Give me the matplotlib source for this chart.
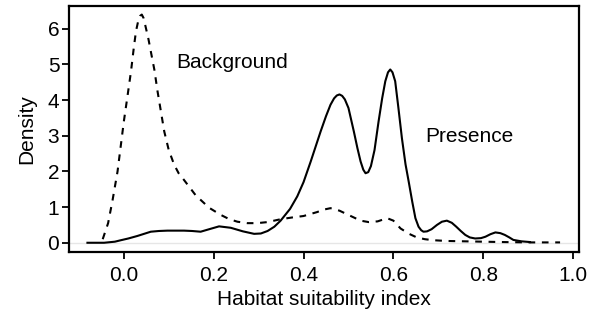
import matplotlib
matplotlib.use("Agg")
import matplotlib.pyplot as plt

plt.rcParams['font.family'] = ['Liberation Sans', 'DejaVu Sans']

# Presence density (solid line)
presence_x = [-0.081, -0.044, -0.02, -0.007, 0.01, 0.03, 0.045, 0.06, 0.078, 0.097,
              0.115, 0.134, 0.152, 0.171, 0.19, 0.212, 0.238, 0.265, 0.29, 0.305,
              0.32, 0.335, 0.349, 0.37, 0.386, 0.40, 0.416, 0.438, 0.45, 0.46,
              0.468, 0.474, 0.48, 0.486, 0.492, 0.50, 0.512, 0.52, 0.527, 0.533,
              0.538, 0.544, 0.55, 0.558, 0.567, 0.575, 0.582, 0.588, 0.593, 0.598,
              0.604, 0.611, 0.619, 0.627, 0.634, 0.642, 0.649, 0.656, 0.662, 0.667,
              0.675, 0.685, 0.697, 0.708, 0.719, 0.73, 0.74, 0.75, 0.76, 0.77,
              0.782, 0.795, 0.805, 0.816, 0.827, 0.838, 0.848, 0.858, 0.867, 0.885,
              0.904]
presence_y = [0.0, 0.0, 0.03, 0.07, 0.12, 0.19, 0.25, 0.31, 0.33, 0.34,
              0.34, 0.34, 0.33, 0.31, 0.38, 0.46, 0.42, 0.32, 0.25, 0.26,
              0.33, 0.45, 0.62, 0.95, 1.30, 1.70, 2.28, 3.12, 3.55, 3.87,
              4.05, 4.13, 4.16, 4.12, 4.02, 3.78, 3.12, 2.65, 2.28, 2.05,
              1.95, 1.98, 2.15, 2.60, 3.40, 4.05, 4.53, 4.78, 4.86, 4.78,
              4.53, 3.80, 2.93, 2.20, 1.72, 1.15, 0.69, 0.45, 0.35, 0.31,
              0.32, 0.38, 0.50, 0.59, 0.62, 0.56, 0.45, 0.33, 0.22, 0.15,
              0.12, 0.13, 0.17, 0.24, 0.29, 0.27, 0.22, 0.15, 0.08, 0.04,
              0.02]

# Background density (dashed line)
background_x = [-0.047, -0.035, -0.025, -0.014, 0.0, 0.008, 0.016, 0.022, 0.027, 0.032,
                0.036, 0.04, 0.044, 0.049, 0.055, 0.06, 0.068, 0.075, 0.09, 0.1,
                0.112, 0.122, 0.134, 0.16, 0.19, 0.216, 0.235, 0.253, 0.275, 0.297,
                0.32, 0.349, 0.375, 0.40, 0.43, 0.445, 0.46, 0.48, 0.50, 0.527,
                0.545, 0.565, 0.586, 0.60, 0.616, 0.635, 0.652, 0.67, 0.69, 0.72,
                0.76, 0.80, 0.84, 0.90, 0.971]
background_y = [0.10, 0.55, 1.20, 2.00, 3.40, 4.10, 4.81, 5.45, 5.93, 6.22,
                6.36, 6.40, 6.30, 6.03, 5.70, 5.37, 4.85, 4.25, 3.12, 2.60,
                2.19, 1.95, 1.76, 1.33, 0.98, 0.78, 0.66, 0.59, 0.55, 0.55,
                0.58, 0.66, 0.71, 0.75, 0.86, 0.93, 0.97, 0.90, 0.78, 0.62,
                0.58, 0.60, 0.69, 0.62, 0.40, 0.25, 0.15, 0.10, 0.07, 0.05,
                0.04, 0.03, 0.02, 0.01, 0.01]

x_ticks = [0.0, 0.2, 0.4, 0.6, 0.8, 1.0]
x_ticklabels = ["0.0", "0.2", "0.4", "0.6", "0.8", "1.0"]
y_ticks = [0, 1, 2, 3, 4, 5, 6]

fig = plt.figure(figsize=(5.95, 3.16), dpi=100)
ax = fig.add_axes([0.116, 0.203, 0.857, 0.778])

ax.axhline(0, color="#e6e6e6", lw=1.0, zorder=0)
ax.plot(background_x, background_y, color="black", lw=1.5, ls=(0, (3.2, 3.2)))
ax.plot(presence_x, presence_y, color="black", lw=1.5)

ax.text(0.242, 5.05, "Background", fontsize=15, ha="center", va="center")
ax.text(0.769, 2.98, "Presence", fontsize=15, ha="center", va="center")

ax.set_xlim(-0.122, 1.013)
ax.set_ylim(-0.255, 6.64)
ax.set_xticks(x_ticks)
ax.set_xticklabels(x_ticklabels)
ax.set_yticks(y_ticks)
ax.tick_params(axis="both", direction="out", length=5, width=1.3, labelsize=15)
ax.tick_params(axis="x", pad=5)
ax.tick_params(axis="y", pad=2)
for s in ax.spines.values():
    s.set_linewidth(1.6)

ax.set_xlabel("Habitat suitability index", fontsize=15, labelpad=4)
ax.set_ylabel("Density", fontsize=15, labelpad=8)

fig.savefig("out.png", dpi=100)
